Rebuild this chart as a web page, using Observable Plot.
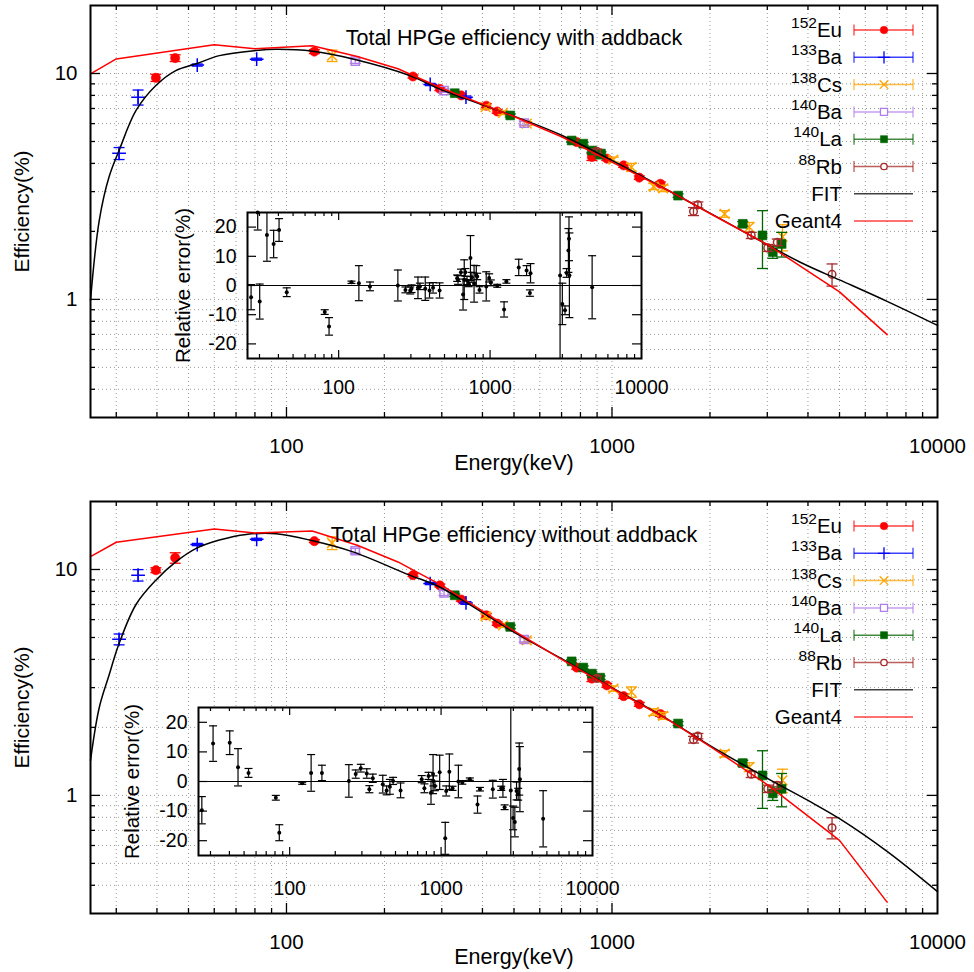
<!DOCTYPE html>
<html><head><meta charset="utf-8">
<script src="https://cdn.jsdelivr.net/npm/d3@7"></script>
<script src="https://cdn.jsdelivr.net/npm/@observablehq/plot@0.6"></script>
<style>
body{margin:0;background:#fff;}
#root{position:relative;width:974px;height:972px;overflow:hidden;background:#fff;font-family:'Liberation Sans',Arial,sans-serif;}
#root svg{position:absolute;}
</style></head><body><div id="root"></div>
<script>
// ---------- DATA: [energy keV, efficiency %, error] ----------
const eu152Top = [[39.7,9.57,0.35],[45.5,11.7,0.4],[121.8,12.5,0.25],[244.7,9.70,0.15],[295.9,8.55,0.15],[344.3,8.0,0.12],[411.1,7.2,0.15],[444.0,6.79,0.12],[778.9,4.97,0.08],[867.4,4.27,0.15],[964.1,4.2,0.08],[1085.8,3.92,0.08],[1212.9,3.46,0.06],[1408.0,3.25,0.06]];
const ba133Top = [[30.6,4.43,0.27],[35.0,7.85,0.6],[53.2,10.9,0.12],[81.0,11.57,0.12],[276.4,8.94,0.1],[356.0,7.85,0.1]];
const cs138Top = [[138.1,12.0,0.7],[409.0,7.1,0.15],[462.8,6.7,0.12],[547.0,6.0,0.12],[1009.8,4.16,0.1],[1147.2,3.85,0.15],[1343.6,3.16,0.1],[1435.9,3.1,0.1],[2218.0,2.39,0.08],[2639.6,2.09,0.1],[3340,1.89,0.25]];
const ba140Top = [[162.7,11.34,0.25],[304.8,8.4,0.15],[537.3,6.03,0.12]];
const la140Top = [[328.8,8.18,0.1],[487.0,6.52,0.1],[751.6,5.05,0.08],[815.8,4.89,0.08],[867.8,4.56,0.08],[919.5,4.37,0.08],[925.2,4.42,0.08],[1596.2,2.88,0.05],[2521.6,2.16,0.05],[2899.6,1.92,0.55],[3118.5,1.62,0.1],[3320.0,1.76,0.22]];
const rb88Top = [[898.0,4.53,0.1],[1780,2.45,0.1],[1836,2.62,0.08],[2677.9,1.92,0.06],[3009.0,1.69,0.06],[3218.4,1.79,0.06],[4742.5,1.29,0.145]];
const fitTop = [[25,0.99],[26.6,2.24],[28.5,3.48],[30.6,4.56],[34.5,6.86],[39.7,8.85],[45.7,10.3],[52.8,11.04],[62.2,12.0],[80.6,12.64],[93,12.8],[120.5,12.55],[160,11.6],[239,9.8],[300,8.47],[509,6.41],[700,5.33],[1000,4.12],[1697,2.74],[2000,2.41],[3788,1.46],[5000,1.22],[7000,0.98],[10000,0.767]];
const geantTop = [[25,9.97],[30,11.6],[60,13.4],[80,12.86],[120,13.26],[165,11.9],[220,10.5],[300,8.6],[500,6.45],[700,5.25],[1000,4.05],[1500,3.02],[2000,2.4],[3000,1.75],[5000,1.08],[7000,0.698]];

const eu152Bot = [[39.7,9.93,0.25],[45.5,11.26,0.6],[121.8,13.35,0.2],[244.7,9.44,0.12],[295.9,8.5,0.12],[344.3,7.36,0.12],[411.1,6.27,0.12],[444.0,5.76,0.1],[778.9,3.68,0.06],[867.4,3.29,0.1],[964.1,3.07,0.06],[1085.8,2.75,0.06],[1212.9,2.53,0.05],[1408.0,2.29,0.05]];
const ba133Bot = [[30.6,4.91,0.27],[35.0,9.44,0.55],[53.2,12.9,0.15],[81.0,13.6,0.15],[276.4,8.67,0.1],[356.0,7.11,0.1]];
const cs138Bot = [[138.1,13.1,0.85],[409.0,6.21,0.15],[462.8,5.66,0.12],[547.0,4.86,0.12],[1009.8,2.97,0.08],[1147.2,2.87,0.15],[1343.6,2.34,0.08],[1435.9,2.25,0.08],[2218.0,1.53,0.05],[2639.6,1.335,0.06],[3340,1.166,0.14]];
const ba140Bot = [[162.7,12.1,0.3],[304.8,7.88,0.2],[537.3,4.9,0.12]];
const la140Bot = [[328.8,7.69,0.1],[487.0,5.57,0.1],[751.6,3.92,0.06],[815.8,3.68,0.06],[867.8,3.46,0.06],[919.5,3.32,0.06],[1596.2,2.08,0.04],[2521.6,1.39,0.04],[2899.6,1.226,0.35],[3118.5,1.02,0.07],[3320.0,1.07,0.18]];
const rb88Bot = [[898.0,3.3,0.08],[1780,1.765,0.06],[1836,1.83,0.05],[2677.9,1.24,0.04],[3009.0,1.07,0.04],[3218.4,1.107,0.04],[4742.5,0.719,0.077]];
const fitBot = [[25,1.43],[26.6,2.45],[28.5,3.4],[30.6,4.7],[34.5,7.0],[39.7,8.97],[45.7,10.8],[52.8,12.4],[62.2,13.5],[75.2,14.3],[93,14.4],[120.5,13.4],[160,11.97],[239,9.44],[295.5,8.37],[509,5.2],[700,4.03],[1000,3.0],[1500,2.15],[2000,1.66],[3000,1.19],[4000,0.95],[5028,0.785],[7000,0.565],[10000,0.375]];
const geantBot = [[25,11.4],[30,13.2],[60,15.1],[80,14.5],[120,14.8],[165,12.8],[220,10.8],[300,8.5],[500,5.35],[700,4.0],[1000,2.98],[1500,2.15],[2000,1.65],[3000,1.116],[5000,0.632],[7000,0.337]];

// relative error insets: [energy keV, relative error %, error]
const relTop = [[26.4,-4.0,4.3],[29.2,25,6],[30.1,-5.5,6],[33.6,17.3,9],[37.2,14.2,4.7],[40.4,19,3.9],[45.4,-2.3,1.5],[80.9,-9.1,0.8],[86.4,-14,3],[121.5,1.1,0.4],[136,0.8,6],[161,-0.3,1.5],[246,0,5.3],[276,-1.5,1],[297,-1.7,1.2],[303,-1.1,1.3],[334,-0.8,3.7],[344,-0.3,1.1],[373,-1.1,4],[398,-1.7,2.6],[420,-0.8,1.8],[464,-1.7,2.6],[606,2.5,1.1],[614,1.9,1.5],[642,4.5,1.1],[663,-3.1,5.3],[675,2.0,6.8],[687,4.5,1.3],[704,1.7,1.4],[722,0.8,1.2],[742,9.4,7.7],[758,2.8,1.7],[784,0.6,6.3],[811,3.4,3.4],[822,3.1,1.1],[851,-1.5,1.1],[943,-0.3,5],[986,2.6,1.4],[1012,0.9,1],[1115,-0.1,0.5],[1237,-8.2,2.6],[1281,1.4,0.6],[1546,6.2,2.8],[1742,5.1,1.7],[1832,-2.6,1.1],[1850,4.2,3.3],[2899,3.4,40],[3000,-6.3,7.1],[3125,-8.5,1.5],[3200,4.3,1.5],[3290,12,7.5],[3320,16,7.5],[3340,3.5,14.5],[4720,-0.6,10.8]];
const relBot = [[26.3,-9.7,4.6],[31.2,12.8,6],[40.2,13.1,4],[45.6,4.8,6.3],[53.5,2.9,1.5],[81,-5.5,0.8],[85.4,-17.3,2.7],[121,-0.6,0.35],[138.6,2.9,6.2],[163.3,2.9,2.6],[246,0.2,5.5],[273,2.5,1.4],[295,4.5,1.3],[323,2.7,1.6],[336,-2.6,1.2],[354,1.1,1.4],[412,-0.9,3],[437,-3,1.5],[459,-1.8,2.5],[482,0.2,1.2],[540,-3,2.5],[745,0.8,1.2],[776,-2.3,1.5],[826,1.9,1.2],[858,-3.8,3.9],[885,2.5,6.6],[890,0.2,1.7],[911,-1.5,1.6],[979,3.1,5.8],[1065,-19.2,5.4],[1081,-3.2,1.7],[1134,3.3,6],[1190,-2.3,0.7],[1301,0,5.5],[1381,-0.3,0.6],[1548,0.8,0.4],[1740,-7.8,2.9],[1805,-2.6,0.6],[2196,-2.6,3],[2497,-2.3,0.7],[2561,-2.3,3],[2628,-8.7,0.8],[2887,-3,40],[2990,-12.3,4],[3070,-13.7,5],[3150,-3.2,3],[3230,-4.3,2],[3280,4.2,8.8],[3316,0.8,11],[4720,-12.6,9.5]];

// tick values and labels
const xTickLabels = [100, 1000, 10000];
const xMajorTicks = [100, 1000];
const xMinorTicks = [30,40,50,60,70,80,90,200,300,400,500,600,700,800,900,2000,3000,4000,5000,6000,7000,8000,9000];
const yTickLabels = [1, 10];
const yMajorTicks = [1, 10];
const yMinorTicks = [0.4,0.5,0.6,0.7,0.8,0.9,2,3,4,5,6,7,8,9];
const relTicks = [-20,-10,0,10,20];
const titles = ["Total HPGe efficiency with addback", "Total HPGe efficiency without addback"];
const legendIso = ["152","133","138","140","140","88","",""];
const legendEl = ["Eu","Ba","Cs","Ba","La","Rb","FIT","Geant4"];
const seriesColors = ["#ff0000","#0000ff","#ffa500","#b07ee8","#006400","#a52a2a","#000000","#ff0000"];
const seriesSymbols = ["circle","plus","times","square","square","circle"];
const seriesFilled = [true,false,false,false,true,false];
const seriesR = [4.6,4.5,4.5,4.6,5,3.8];

// ---------- DRAWING ----------
const FONT = "'Liberation Sans', Arial, sans-serif";
const root = document.getElementById("root");
const capSymbol = {draw(ctx, size){const w=Math.sqrt(size/Math.PI); ctx.moveTo(-w,0); ctx.lineTo(w,0);}};
const gridStyle = {stroke:"#9a9a9a", strokeDasharray:"1,3", strokeWidth:1};

function mainPlot(dataSets, fit, geant, title, H, mb, labelDy, titleDy) {
  const plotW = 847, plotH = 412;
  const marks = [
    Plot.ruleX(xMinorTicks.concat(xMajorTicks), gridStyle),
    Plot.ruleY(yMinorTicks.concat(yMajorTicks), gridStyle)
  ];
  dataSets.forEach((data, i) => {
    const c = seriesColors[i];
    marks.push(Plot.ruleX(data, {x:d=>d[0], y1:d=>d[1]-d[2], y2:d=>d[1]+d[2], stroke:c, strokeWidth:1.3}));
    marks.push(Plot.dot(data, {x:d=>d[0], y:d=>d[1]+d[2], symbol:capSymbol, r:5.5, stroke:c, fill:"none", strokeWidth:1.3}));
    marks.push(Plot.dot(data, {x:d=>d[0], y:d=>d[1]-d[2], symbol:capSymbol, r:5.5, stroke:c, fill:"none", strokeWidth:1.3}));
    marks.push(Plot.dot(data, {x:d=>d[0], y:d=>d[1], symbol:seriesSymbols[i], r:seriesR[i],
      fill: seriesFilled[i] ? c : "none", stroke:c, strokeWidth: seriesFilled[i] ? 0.6 : 1.5}));
  });
  marks.push(Plot.line(fit, {x:d=>d[0], y:d=>d[1], stroke:"#000", strokeWidth:1.5, curve:"catmull-rom"}));
  marks.push(Plot.line(geant, {x:d=>d[0], y:d=>d[1], stroke:"#ff0000", strokeWidth:1.5}));
  marks.push(
    Plot.ruleX(xMajorTicks, {insetTop: plotH-10, stroke:"#000", strokeWidth:1.3}),
    Plot.ruleX(xMajorTicks, {insetBottom: plotH-10, stroke:"#000", strokeWidth:1.3}),
    Plot.ruleX(xMinorTicks, {insetTop: plotH-5, stroke:"#000", strokeWidth:1.3}),
    Plot.ruleX(xMinorTicks, {insetBottom: plotH-5, stroke:"#000", strokeWidth:1.3}),
    Plot.ruleY(yMajorTicks, {insetRight: plotW-10, stroke:"#000", strokeWidth:1.3}),
    Plot.ruleY(yMajorTicks, {insetLeft: plotW-10, stroke:"#000", strokeWidth:1.3}),
    Plot.ruleY(yMinorTicks, {insetRight: plotW-5, stroke:"#000", strokeWidth:1.3}),
    Plot.ruleY(yMinorTicks, {insetLeft: plotW-5, stroke:"#000", strokeWidth:1.3}),
    Plot.frame({stroke:"#000", strokeWidth:2}),
    Plot.text(xTickLabels, {x:d=>d, frameAnchor:"bottom", dy:29, lineAnchor:"middle", text:d=>String(d), fontSize:20.5, fill:"#000"}),
    Plot.text(yTickLabels, {y:d=>d, frameAnchor:"left", dx:-13, textAnchor:"end", lineAnchor:"middle", text:d=>String(d), fontSize:20.5, fill:"#000"}),
    Plot.text([title], {frameAnchor:"top", dy:titleDy, lineAnchor:"middle", text:d=>d, fontSize:21.5, fill:"#000"}),
    Plot.text(["Efficiency(%)"], {frameAnchor:"left", dx:-68, rotate:-90, textAnchor:"middle", lineAnchor:"middle", text:d=>d, fontSize:21, fill:"#000"}),
    Plot.text(["Energy(keV)"], {frameAnchor:"bottom", dy:labelDy, lineAnchor:"middle", text:d=>d, fontSize:21.5, fill:"#000"})
  );
  return Plot.plot({
    width:974, height:H, marginLeft:90, marginRight:37, marginTop:5, marginBottom:mb,
    x:{type:"log", domain:[25,10000], axis:null},
    y:{type:"log", domain:[0.3,20], axis:null},
    style:{background:"transparent", overflow:"visible", fontFamily:FONT},
    marks
  });
}

function insetPlot(rel, W, H, ml, mr, mt, mb, labelDy, ylabDx) {
  const plotW = W-ml-mr, plotH = H-mt-mb;
  const upCaps = rel.filter(d => d[1]+d[2] <= 25);
  const loCaps = rel.filter(d => d[1]-d[2] >= -25);
  return Plot.plot({
    width:W, height:H, marginLeft:ml, marginRight:mr, marginTop:mt, marginBottom:mb,
    x:{type:"log", domain:[25,10000], axis:null},
    y:{domain:[-25,25], axis:null},
    style:{background:"transparent", overflow:"visible", fontFamily:FONT},
    marks:[
      Plot.frame({fill:"#fff", stroke:"none"}),
      Plot.ruleY([0], {stroke:"#000", strokeWidth:1.2}),
      Plot.ruleX(rel, {x:d=>d[0], y1:d=>Math.max(-25,d[1]-d[2]), y2:d=>Math.min(25,d[1]+d[2]), stroke:"#000", strokeWidth:1.2}),
      Plot.dot(upCaps, {x:d=>d[0], y:d=>d[1]+d[2], symbol:capSymbol, r:4, stroke:"#000", fill:"none", strokeWidth:1.2}),
      Plot.dot(loCaps, {x:d=>d[0], y:d=>d[1]-d[2], symbol:capSymbol, r:4, stroke:"#000", fill:"none", strokeWidth:1.2}),
      Plot.dot(rel, {x:d=>d[0], y:d=>d[1], r:2, fill:"#000"}),
      Plot.ruleX(xMajorTicks, {insetTop: plotH-8, stroke:"#000", strokeWidth:1.2}),
      Plot.ruleX(xMajorTicks, {insetBottom: plotH-8, stroke:"#000", strokeWidth:1.2}),
      Plot.ruleX(xMinorTicks, {insetTop: plotH-4, stroke:"#000", strokeWidth:1.2}),
      Plot.ruleX(xMinorTicks, {insetBottom: plotH-4, stroke:"#000", strokeWidth:1.2}),
      Plot.ruleY(relTicks, {insetRight: plotW-9, stroke:"#000", strokeWidth:1.2}),
      Plot.ruleY(relTicks, {insetLeft: plotW-9, stroke:"#000", strokeWidth:1.2}),
      Plot.frame({stroke:"#000", strokeWidth:2}),
      Plot.text(xTickLabels, {x:d=>d, frameAnchor:"bottom", dy:labelDy, lineAnchor:"middle", text:d=>String(d), fontSize:19.5, fill:"#000"}),
      Plot.text(relTicks, {y:d=>d, frameAnchor:"left", dx:-11, textAnchor:"end", lineAnchor:"middle", text:d=>String(d), fontSize:19.5, fill:"#000"}),
      Plot.text(["Relative error(%)"], {frameAnchor:"left", dx:ylabDx, rotate:-90, textAnchor:"middle", lineAnchor:"middle", text:d=>d, fontSize:20.5, fill:"#000"})
    ]
  });
}

function place(el, left, top) { el.style.left = left+"px"; el.style.top = top+"px"; root.appendChild(el); }

place(mainPlot([eu152Top,ba133Top,cs138Top,ba140Top,la140Top,rb88Top], fitTop, geantTop, titles[0], 480, 63, 46, 33), 0, 0);
place(insetPlot(relTop, 480, 200, 77, 9, 12, 42, 29, -64), 170, 200);
place(mainPlot([eu152Bot,ba133Bot,cs138Bot,ba140Bot,la140Bot,rb88Bot], fitBot, geantBot, titles[1], 476, 59, 44, 34), 0, 496);
place(insetPlot(relBot, 500, 220, 88, 18, 17, 55, 33, -66), 110, 690);

// legends
const lsvg = d3.select(root).append("svg").attr("width",974).attr("height",972)
  .style("left","0px").style("top","0px").style("pointer-events","none").style("font-family",FONT);
const symMap = {circle:d3.symbolCircle, plus:d3.symbolPlus, times:d3.symbolTimes, square:d3.symbolSquare};
function drawLegend(top) {
  legendEl.forEach((el, i) => {
    const y = top + i*27.3;
    const c = seriesColors[i];
    const t = lsvg.append("text").attr("x",842).attr("y",y+7).attr("text-anchor","end").attr("font-size",20.5).attr("fill","#000");
    if (legendIso[i]) {
      t.append("tspan").attr("font-size",15.5).attr("dy",-9).text(legendIso[i]);
      t.append("tspan").attr("font-size",20.5).attr("dy",9).text(el);
    } else t.text(el);
    lsvg.append("line").attr("x1",854).attr("x2",913).attr("y1",y).attr("y2",y).attr("stroke",c).attr("stroke-width",1.5).attr("stroke-opacity",0.75);
    if (i < 6) {
      [854,913].forEach(x => lsvg.append("line").attr("x1",x).attr("x2",x).attr("y1",y-5.5).attr("y2",y+5.5).attr("stroke",c).attr("stroke-width",1.3).attr("stroke-opacity",0.75));
      const r = i===0 ? 3.8 : (i===5 ? 3.2 : 4);
      lsvg.append("path").attr("transform",`translate(884,${y})`)
        .attr("d", d3.symbol(symMap[seriesSymbols[i]], Math.PI*r*r)())
        .attr("fill", seriesFilled[i] ? c : "#fff").attr("stroke", c).attr("stroke-width", seriesFilled[i]?0.5:1.3);
    }
  });
}
drawLegend(30);
drawLegend(526);
</script></body></html>
